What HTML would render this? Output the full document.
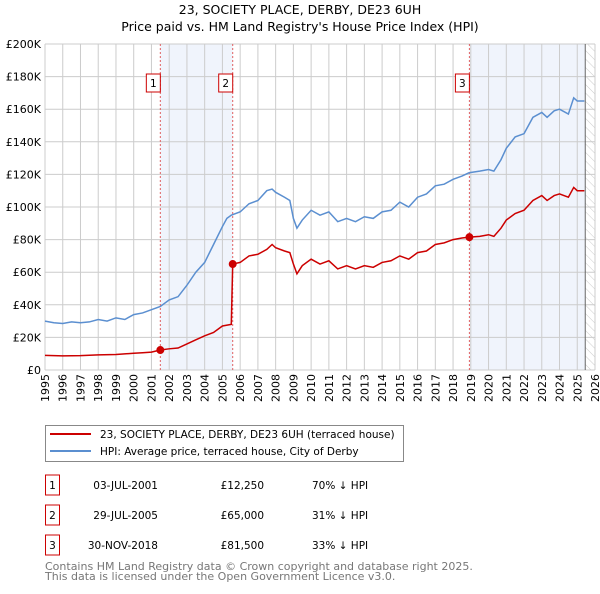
<!DOCTYPE html>
<html><head><meta charset="utf-8"><style>
body{margin:0;background:#fff;font-family:"DejaVu Sans","Liberation Sans",sans-serif}
svg text{font-family:"DejaVu Sans","Liberation Sans",sans-serif}
</style></head><body>
<svg id="chart" width="600" height="590" xmlns="http://www.w3.org/2000/svg">
<defs><pattern id="hatch" width="6" height="6" patternUnits="userSpaceOnUse" patternTransform="rotate(-45)"><line x1="0" y1="0" x2="0" y2="6" stroke="#ccc" stroke-width="1"/></pattern></defs>
<text x="300" y="14" text-anchor="middle" font-size="12.5">23, SOCIETY PLACE, DERBY, DE23 6UH</text>
<text x="300" y="31" text-anchor="middle" font-size="12.5">Price paid vs. HM Land Registry's House Price Index (HPI)</text>
<g id="plot"></g>
<g>
<rect x="45.5" y="425.5" width="358" height="36" fill="#fff" stroke="#888"/>
<line x1="50" y1="434" x2="91" y2="434" stroke="#cc0000" stroke-width="2"/>
<text x="100" y="438" font-size="10.5">23, SOCIETY PLACE, DERBY, DE23 6UH (terraced house)</text>
<line x1="50" y1="451" x2="91" y2="451" stroke="#5b8fd0" stroke-width="2"/>
<text x="100" y="455" font-size="10.5">HPI: Average price, terraced house, City of Derby</text>
</g>
<g id="table" font-size="10.5"></g>
<text x="45" y="570" font-size="11" fill="#777">Contains HM Land Registry data © Crown copyright and database right 2025.</text>
<text x="45" y="580" font-size="11" fill="#777">This data is licensed under the Open Government Licence v3.0.</text>
</svg>
<script>
const hpiYears=[1995,1995.5,1996,1996.5,1997,1997.5,1998,1998.5,1999,1999.5,2000,2000.5,2001,2001.5,2002,2002.5,2003,2003.5,2004,2004.5,2005,2005.25,2005.5,2006,2006.5,2007,2007.5,2007.8,2008,2008.5,2008.8,2009,2009.2,2009.5,2010,2010.5,2011,2011.5,2012,2012.5,2013,2013.5,2014,2014.5,2015,2015.5,2016,2016.5,2017,2017.5,2018,2018.5,2018.9,2019.5,2020,2020.3,2020.7,2021,2021.5,2022,2022.5,2023,2023.3,2023.7,2024,2024.5,2024.8,2025,2025.4];
const hpiValues=[30,29,28.5,29.5,29,29.5,31,30,32,31,34,35,37,39,43,45,52,60,66,77,88,93,95,97,102,104,110,111,109,106,104,93,87,92,98,95,97,91,93,91,94,93,97,98,103,100,106,108,113,114,117,119,121,122,123,122,129,136,143,145,155,158,155,159,160,157,167,165,165];
const priceYears=[1995,1995.5,1996,1997,1998,1999,2000,2000.5,2001,2001.5,2002,2002.5,2003,2003.5,2004,2004.5,2005,2005.5,2005.58,2006,2006.5,2007,2007.5,2007.8,2008,2008.5,2008.8,2009,2009.2,2009.5,2010,2010.5,2011,2011.5,2012,2012.5,2013,2013.5,2014,2014.5,2015,2015.5,2016,2016.5,2017,2017.5,2018,2018.5,2018.92,2019.5,2020,2020.3,2020.7,2021,2021.5,2022,2022.5,2023,2023.3,2023.7,2024,2024.5,2024.8,2025,2025.4];
const priceValues=[9,8.8,8.7,8.8,9.3,9.5,10.3,10.6,11,12.25,13,13.5,16,18.5,21,23,27,28,65,66,70,71,74,77,75,73,72,65,59,64,68,65,67,62,64,62,64,63,66,67,70,68,72,73,77,78,80,81,81.5,82,83,82,87,92,96,98,104,107,104,107,108,106,112,110,110];
const saleYears=[2001.5,2005.58,2018.92];
const saleValues=[12.25,65,81.5];
const saleLabels=["1","2","3"];
const yTicks=[0,20,40,60,80,100,120,140,160,180,200];
const yTickLabels=["£0","£20K","£40K","£60K","£80K","£100K","£120K","£140K","£160K","£180K","£200K"];
const tableDates=["03-JUL-2001","29-JUL-2005","30-NOV-2018"];
const tablePrices=["£12,250","£65,000","£81,500"];
const tablePcts=["70% ↓ HPI","31% ↓ HPI","33% ↓ HPI"];
const dataEnd=2025.45;

const X0=45,X1=595,Y0=370,Y1=44;
const x=t=>X0+(t-1995)/31*(X1-X0);
const y=v=>Y0-v/200*(Y0-Y1);
const NS="http://www.w3.org/2000/svg";
const plot=document.getElementById('plot');
function mk(tag,at,parent){const e=document.createElementNS(NS,tag);for(const k in at)e.setAttribute(k,at[k]);(parent||plot).appendChild(e);return e;}
let e;
e=mk('rect',{x:x(saleYears[0]),y:Y1,width:x(saleYears[1])-x(saleYears[0]),height:Y0-Y1,fill:'#f0f4fc'});


e=mk('rect',{x:x(saleYears[2]),y:Y1,width:x(dataEnd)-x(saleYears[2]),height:Y0-Y1,fill:'#f0f4fc'});


e=mk('rect',{x:x(dataEnd),y:Y1,width:X1-x(dataEnd),height:Y0-Y1,fill:'url(#hatch)'});


for(let yr=1995;yr<=2026;yr++){
 e=mk('line',{x1:x(yr),x2:x(yr),y1:Y1,y2:Y0,stroke:'#ccc','stroke-width':1});
 
 
 e=mk('text',{x:0,y:0,transform:`translate(${x(yr)+4},${Y0+4}) rotate(-90)`,'text-anchor':'end','font-size':11});
 e.textContent=yr;
 
 
}
yTicks.forEach((v,i)=>{
 e=mk('line',{x1:X0,x2:X1,y1:y(v),y2:y(v),stroke:'#ccc','stroke-width':1});
 
 
 e=mk('text',{x:X0-4,y:y(v)+4,'text-anchor':'end','font-size':11});
 e.textContent=yTickLabels[i];
 
 
});
e=mk('line',{x1:x(dataEnd),x2:x(dataEnd),y1:Y1,y2:Y0,stroke:'#666','stroke-width':1});


saleYears.forEach((s,i)=>{
 e=mk('line',{x1:x(s),x2:x(s),y1:Y1,y2:Y0,stroke:'#e06060','stroke-width':1,'stroke-dasharray':'2,2'});
 
 
 const g=mk('g',{});
 
 
 mk('rect',{x:x(s)-14,y:74,width:14,height:18,fill:'#fff',stroke:'#cc0000'},g);
 const t=mk('text',{x:x(s)-7,y:87,'text-anchor':'middle','font-size':10.5},g);t.textContent=saleLabels[i];
});
function line(xs,vs,col,name){
 e=mk('polyline',{points:xs.map((t,i)=>x(t)+','+y(vs[i])).join(' '),fill:'none',stroke:col,'stroke-width':1.5});
 
 
}
line(hpiYears,hpiValues,'#5b8fd0','hpi-line');
line(priceYears,priceValues,'#cc0000','price-line');
saleYears.forEach((s,i)=>{
 e=mk('circle',{cx:x(s),cy:y(saleValues[i]),r:4,fill:'#cc0000'});
 
 
});
const tb=document.getElementById('table');
saleLabels.forEach((l,i)=>{
 const cy=485+i*30;
 const g=mk('g',{},tb);
 
 
 mk('rect',{x:45.5,y:cy-10,width:14,height:20,fill:'#fff',stroke:'#cc0000'},g);
 let t=mk('text',{x:52.5,y:cy+4,'text-anchor':'middle'},g);t.textContent=l;
 t=mk('text',{x:158,y:cy+4,'text-anchor':'end'},g);t.textContent=tableDates[i];
 t=mk('text',{x:264,y:cy+4,'text-anchor':'end'},g);t.textContent=tablePrices[i];
 t=mk('text',{x:312,y:cy+4},g);t.textContent=tablePcts[i];
});
</script>
</body></html>
